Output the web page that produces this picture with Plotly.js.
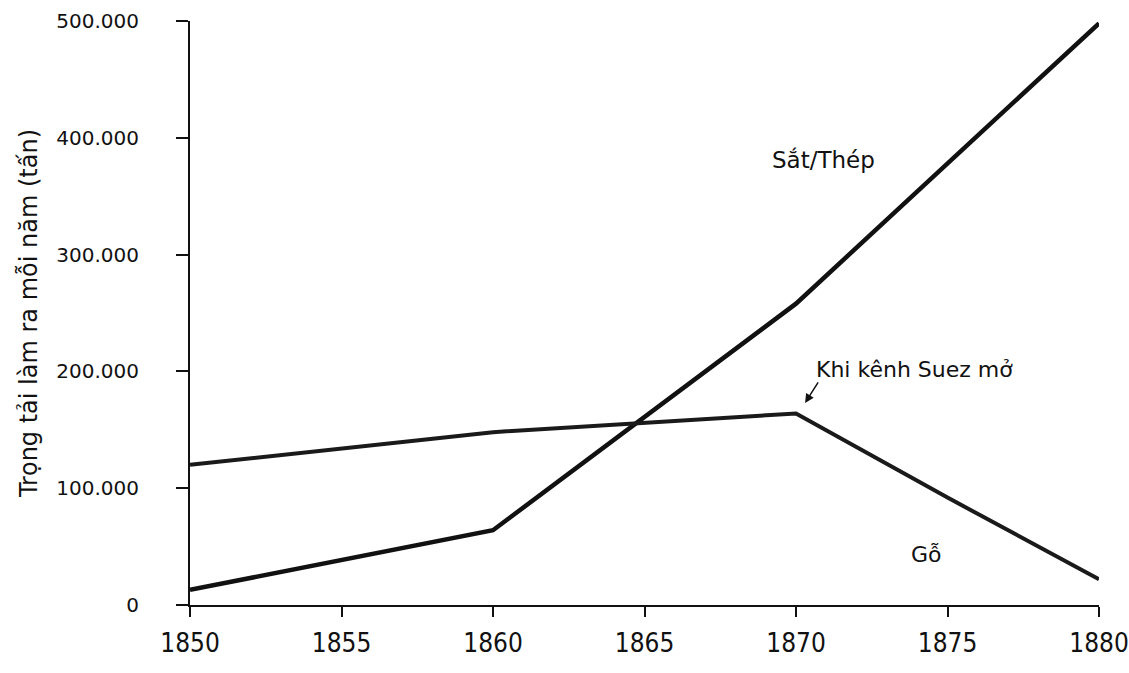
<!DOCTYPE html>
<html>
<head>
<meta charset="utf-8">
<script src="https://cdn.plot.ly/plotly-3.0.1.min.js"></script>
<style>html,body{margin:0;padding:0;background:#fff;}#chart{width:1129px;height:673px;}</style>
</head>
<body>
<div id="chart"></div>
<script>
// Data
const ironYears = [1850, 1860, 1870, 1880];
const ironValues = [13000, 64000, 258000, 498000];
const woodYears = [1850, 1860, 1870, 1875, 1880];
const woodValues = [120000, 148000, 164000, 92000, 22000];
const xTicks = [1850, 1855, 1860, 1865, 1870, 1875, 1880];
const yTicks = [0, 100000, 200000, 300000, 400000, 500000];
const labelIron = "Sắt/Thép";
const labelWood = "Gỗ";
const labelSuez = "Khi kênh Suez mở";
const yTitle = "Trọng tải làm ra mỗi năm (tấn)";

const font = "DejaVu Sans, Liberation Sans, Arial, sans-serif";
const narrow = "Liberation Sans Narrow, Arial Narrow, DejaVu Sans Condensed, sans-serif";

const traces = [
  {x: ironYears, y: ironValues, type: 'scatter', mode: 'lines',
   line: {color: '#111', width: 4.5}, hoverinfo: 'x+y', name: labelIron},
  {x: woodYears, y: woodValues, type: 'scatter', mode: 'lines',
   line: {color: '#1a1a1a', width: 4}, hoverinfo: 'x+y', name: labelWood}
];

const layout = {
  width: 1129, height: 673,
  margin: {l: 190, r: 30, t: 21, b: 68},
  paper_bgcolor: '#fff', plot_bgcolor: '#fff',
  showlegend: false,
  separators: ',.',
  font: {family: font, size: 21, color: '#111'},
  xaxis: {
    range: [1850, 1880], tickvals: xTicks, tickformat: 'd',
    showgrid: false, zeroline: false,
    showline: true, linecolor: '#111', linewidth: 2,
    ticks: 'outside', ticklen: 10, tickwidth: 2, tickcolor: '#111',
    ticklabelstandoff: 4,
    tickfont: {family: narrow, size: 26, color: '#111'}
  },
  yaxis: {
    range: [0, 500000], tickvals: yTicks, tickformat: ',d',
    showgrid: false, zeroline: false,
    showline: true, linecolor: '#111', linewidth: 2,
    ticks: 'outside', ticklen: 12, tickwidth: 2, tickcolor: '#111',
    ticklabelstandoff: 33,
    tickfont: {family: font, size: 20, color: '#111'},
    title: {text: yTitle, font: {family: font, size: 24, color: '#111'}, standoff: 12}
  },
  annotations: [
    {x: 1870.9, y: 381000, xref: 'x', yref: 'y', text: labelIron, showarrow: false,
     font: {family: font, size: 23, color: '#111'}},
    {x: 1873.9, y: 202000, xref: 'x', yref: 'y', text: labelSuez, showarrow: false,
     font: {family: font, size: 22, color: '#111'}},
    {x: 1870.3, y: 173000, xref: 'x', yref: 'y', text: '', showarrow: true,
     ax: 14, ay: -22, arrowhead: 2, arrowsize: 1.2, arrowwidth: 1.5, arrowcolor: '#111', standoff: 0},
    {x: 1874.3, y: 43000, xref: 'x', yref: 'y', text: labelWood, showarrow: false,
     font: {family: font, size: 22, color: '#111'}}
  ]
};

Plotly.newPlot('chart', traces, layout, {displayModeBar: false, staticPlot: true});
</script>
</body>
</html>
